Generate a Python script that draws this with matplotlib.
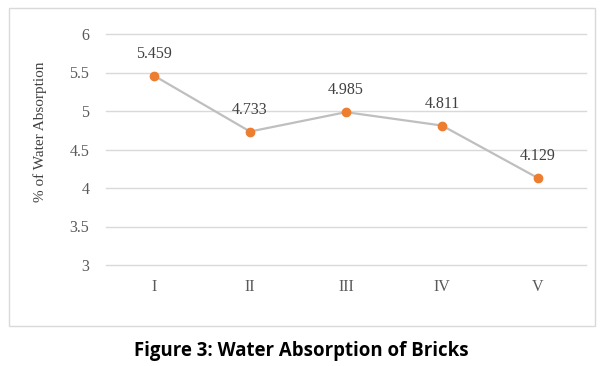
import matplotlib.pyplot as plt
from matplotlib.patches import Rectangle

# data
samples = ['I', 'II', 'III', 'IV', 'V']
absorption = [5.459, 4.733, 4.985, 4.811, 4.129]

fig = plt.figure(figsize=(6.03, 3.66), dpi=100)
fig.patches.append(Rectangle((9 / 603, 1 - 326 / 366), 586 / 603, 318 / 366,
                             transform=fig.transFigure, fill=False,
                             edgecolor='#d9d9d9', linewidth=1))

ax = fig.add_axes([106 / 603, 1 - 265 / 366, 480 / 603, 231 / 366])
x = range(len(samples))
ax.plot(x, absorption, color='#bfbfbf', linewidth=1.6, marker='o',
        markersize=6, markerfacecolor='#ed7d31', markeredgecolor='#ed7d31', zorder=3)

for xi, v in zip(x, absorption):
    ax.annotate(f'{v:.3f}', (xi, v), xytext=(0, 10), textcoords='offset points',
                ha='center', va='bottom', fontsize=11.5, family='Liberation Serif',
                color='#404040')

ax.set_xlim(-0.5, len(samples) - 0.5)
ax.set_ylim(3, 6)
ax.set_yticks([3, 3.5, 4, 4.5, 5, 5.5, 6])
ax.set_yticklabels(['3', '3.5', '4', '4.5', '5', '5.5', '6'])
ax.set_xticks(list(x))
ax.set_xticklabels(samples)
ax.grid(axis='y', color='#d9d9d9', linewidth=1)
for gl in ax.get_ygridlines():
    gl.set_clip_on(False)
ax.set_axisbelow(True)
for s in ax.spines.values():
    s.set_visible(False)
ax.tick_params(length=0, labelsize=11.5, labelcolor='#595959', pad=10)
ax.tick_params(axis='y', pad=12)
for lab in ax.get_xticklabels() + ax.get_yticklabels():
    lab.set_family('Liberation Serif')

fig.text(40 / 603, 1 - 132 / 366, '% of Water Absorption', rotation=90,
         ha='center', va='center', fontsize=11, family='Liberation Serif',
         color='#404040')

fig.text(0.5, 1 - 351 / 366, 'Figure 3: Water Absorption of Bricks',
         ha='center', va='center', fontsize=13.4, fontweight='bold',
         family='Open Sans', color='black')

fig.savefig('out.png', dpi=100)
